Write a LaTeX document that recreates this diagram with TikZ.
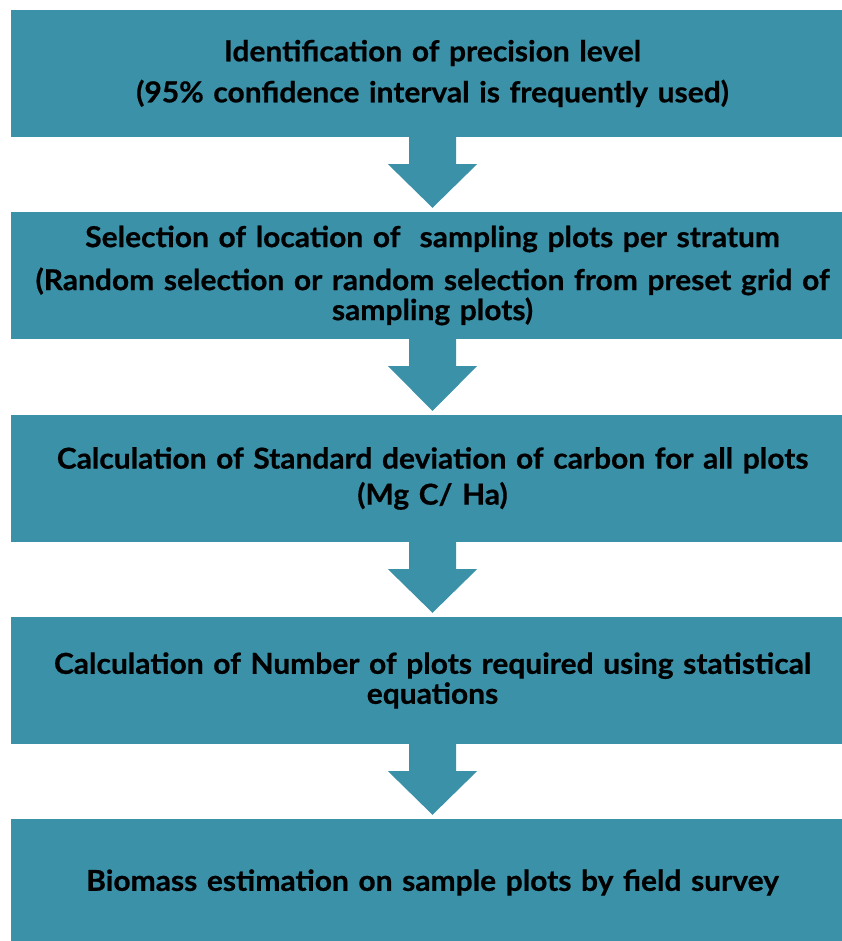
\documentclass[tikz,border=0pt]{standalone}
\usepackage{fontspec}
\setmainfont{Lato}[FakeStretch=1.04, BoldFeatures={FakeStretch=1.04, FakeBold=0.6}]
\usetikzlibrary{calc}
\definecolor{stagecol}{RGB}{58,145,168}

\begin{document}
\begin{tikzpicture}[x=1pt, y=1pt,
  font=\fontsize{28.8}{30}\selectfont\bfseries,
  stage/.style={fill=stagecol, minimum width=843pt, minimum height=127pt,
    text width=835pt, align=center, inner sep=0pt},
  flow/.style={fill=stagecol},
]
\useasboundingbox (0,0) rectangle (842,-941);
% stages
\node[stage] (prec) at (432.5,-73.5) {Identification of precision level\\[11pt]
  (95\% confidence interval is frequently used)};
\node[stage] (loc) at (432.5,-275.5) {Selection of location of\ \ sampling plots per stratum\\[13pt]
  (Random selection or random selection from preset grid of\\sampling plots)};
\node[stage] (sdev) at (432.5,-478.5) {Calculation of Standard deviation of carbon for all plots\\[6pt]
  (Mg C/ Ha)};
\node[stage] (nplot) at (432.5,-680.5) {Calculation of Number of plots required using statistical\\equations};
\node[stage] (biom) at (432.5,-882.5) {Biomass estimation on sample plots by field survey};
% arrows
\foreach \a/\b in {prec/loc, loc/sdev, sdev/nplot, nplot/biom}
  \fill[flow] (\a.south) +(-23.5,0) -- +(23.5,0) -- +(23.5,-27) -- +(44.5,-27)
    -- ([yshift=4pt]\b.north) -- ($(\a.south)+(-44.5,-27)$) -- ($(\a.south)+(-23.5,-27)$) -- cycle;
\end{tikzpicture}
\end{document}
